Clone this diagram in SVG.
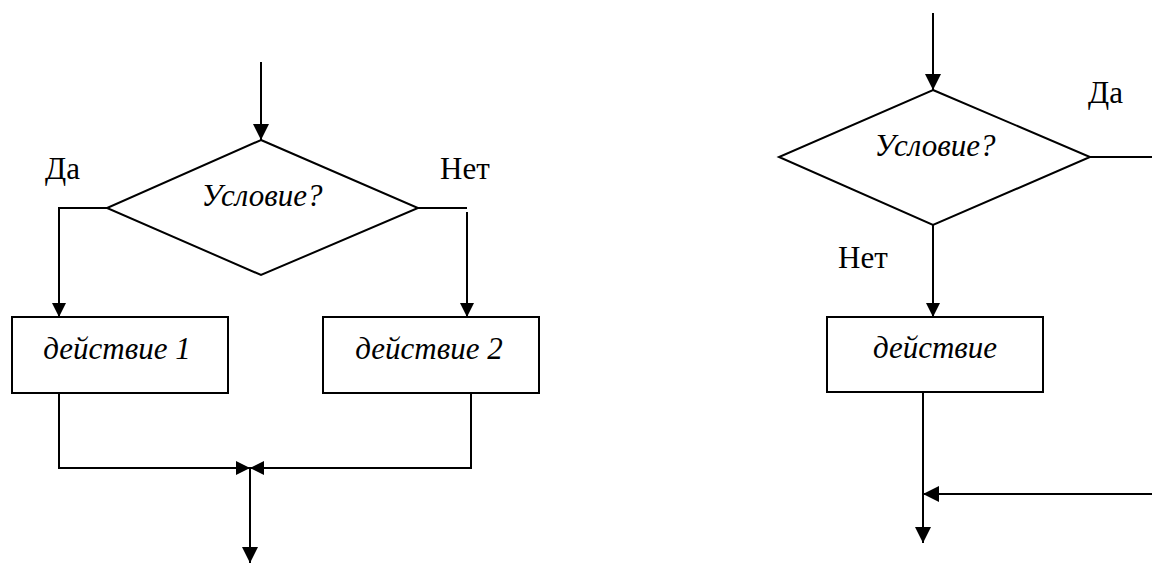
<svg xmlns="http://www.w3.org/2000/svg" width="1152" height="565" viewBox="0 0 1152 565">
<style>
.ln{fill:none;stroke:#000;stroke-width:2}
.shape{fill:#fff;stroke:#000;stroke-width:2}
text{font-size:31px;fill:#000}
.i{font-style:italic}
</style>
<defs>
<marker id="ah" viewBox="0 0 10 10" refX="10" refY="5" markerWidth="16" markerHeight="16" markerUnits="userSpaceOnUse" orient="auto">
<path d="M0,0 L10,5 L0,10 Z" fill="#000"/>
</marker>
<marker id="as" viewBox="0 0 10 10" refX="10" refY="5" markerWidth="14" markerHeight="14" markerUnits="userSpaceOnUse" orient="auto">
<path d="M0,0 L10,5 L0,10 Z" fill="#000"/>
</marker>
</defs>
<rect width="1152" height="565" fill="#fff"/>
<g id="connectors">
<line class="ln" x1="261" y1="62" x2="261" y2="140" marker-end="url(#ah)"/>
<polyline class="ln" points="107,208 59,208 59,317" marker-end="url(#as)"/>
<polyline class="ln" points="418,208 467,208"/>
<line class="ln" x1="467" y1="212" x2="467" y2="317" marker-end="url(#as)"/>
<polyline class="ln" points="59,393 59,468 250,468" marker-end="url(#as)"/>
<polyline class="ln" points="471,393 471,468 250,468" marker-end="url(#as)"/>
<line class="ln" x1="250" y1="468" x2="250" y2="563" marker-end="url(#ah)"/>
<line class="ln" x1="933" y1="13" x2="933" y2="90" marker-end="url(#ah)"/>
<line class="ln" x1="1090" y1="157" x2="1152" y2="157"/>
<line class="ln" x1="933" y1="225" x2="933" y2="317" marker-end="url(#as)"/>
<line class="ln" x1="923" y1="392" x2="923" y2="543" marker-end="url(#ah)"/>
<line class="ln" x1="1152" y1="494" x2="923" y2="494" marker-end="url(#ah)"/>
</g>
<g font-family="Liberation Serif, DejaVu Serif, serif">
<g id="decision1">
<polygon class="shape" points="261,140 418,208 261,275 107,208"/>
<text class="i" x="262" y="206" text-anchor="middle">Условие?</text>
</g>
<g id="action1">
<rect class="shape" x="12" y="317" width="216" height="76"/>
<text class="i" x="117" y="359" text-anchor="middle">действие 1</text>
</g>
<g id="action2">
<rect class="shape" x="323" y="317" width="216" height="76"/>
<text class="i" x="429" y="359" text-anchor="middle">действие 2</text>
</g>
<g id="labels1">
<text x="45" y="179">Да</text>
<text x="440" y="179">Нет</text>
</g>
<g id="decision2">
<polygon class="shape" points="933,90 1090,157 933,225 779,157"/>
<text class="i" x="935" y="156" text-anchor="middle">Условие?</text>
</g>
<g id="action3">
<rect class="shape" x="827" y="317" width="216" height="75"/>
<text class="i" x="935" y="358" text-anchor="middle">действие</text>
</g>
<g id="labels2">
<text x="1088" y="103">Да</text>
<text x="838" y="268">Нет</text>
</g>
</g>
</svg>
